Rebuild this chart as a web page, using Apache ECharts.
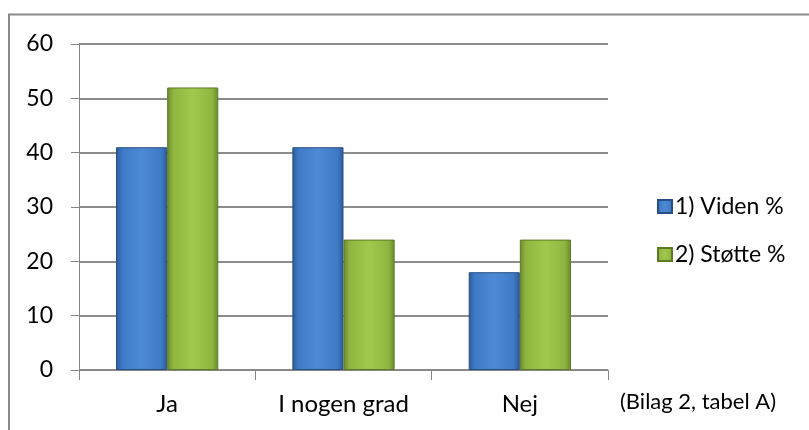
<!DOCTYPE html>
<html>
<head>
<meta charset="utf-8">
<style>
  html, body { margin: 0; padding: 0; background: #ffffff; }
  #chart { width: 809px; height: 430px; }
</style>
<script src="https://cdn.jsdelivr.net/npm/echarts@6/dist/echarts.min.js"></script>
</head>
<body>
<div id="chart"></div>
<script>
// Survey answers per category, in percent
const categories = ['Ja', 'I nogen grad', 'Nej'];
const seriesNames = ['1) Viden %', '2) Støtte %'];
const viden = [41, 41, 18];
const stotte = [52, 24, 24];
const yTicks = { min: 0, max: 60, interval: 10 };
const sourceNote = '(Bilag 2, tabel A)';

const FONT = 'Lato, "Open Sans", sans-serif';

function barFill(light, mid, dark) {
  return new echarts.graphic.LinearGradient(0, 0, 1, 0, [
    { offset: 0, color: dark },
    { offset: 0.12, color: mid },
    { offset: 0.5, color: light },
    { offset: 0.88, color: mid },
    { offset: 1, color: dark }
  ]);
}

const chart = echarts.init(document.getElementById('chart'), null, { renderer: 'canvas' });

chart.setOption({
  backgroundColor: '#ffffff',
  animation: false,
  grid: { left: 79, right: 201, top: 44, bottom: 60 },
  legend: {
    orient: 'vertical',
    left: 652,
    top: 190,
    itemWidth: 14,
    itemHeight: 13,
    itemGap: 25,
    textStyle: { fontFamily: FONT, fontSize: 23, color: '#000000', padding: [0, 0, 0, -2] },
    data: [
      { name: seriesNames[0], icon: 'rect' },
      { name: seriesNames[1], icon: 'rect' }
    ]
  },
  xAxis: {
    type: 'category',
    data: categories,
    axisLine: { show: true, lineStyle: { color: '#868686', width: 1 } },
    axisTick: { show: true, length: 10, lineStyle: { color: '#868686' } },
    axisLabel: { fontFamily: FONT, fontSize: 24, color: '#000000', margin: 22 }
  },
  yAxis: {
    type: 'value',
    min: yTicks.min,
    max: yTicks.max,
    interval: yTicks.interval,
    axisLine: { show: true, lineStyle: { color: '#868686', width: 1 } },
    axisTick: { show: true, length: 8, lineStyle: { color: '#868686' } },
    axisLabel: { fontFamily: FONT, fontSize: 23, color: '#000000', margin: 26 },
    splitLine: { show: true, lineStyle: { color: '#8c8c8c', width: 2 } }
  },
  series: [
    {
      name: seriesNames[0],
      type: 'bar',
      data: viden,
      barGap: '0%',
      barCategoryGap: '42%',
      itemStyle: {
        color: barFill('#4d8ad6', '#3f7ac6', '#2c5a98'),
        borderColor: '#284f85',
        borderWidth: 1
      }
    },
    {
      name: seriesNames[1],
      type: 'bar',
      data: stotte,
      barGap: '0%',
      barCategoryGap: '42%',
      itemStyle: {
        color: barFill('#a0c94c', '#8fb540', '#6b8a2c'),
        borderColor: '#5e7a26',
        borderWidth: 1
      }
    }
  ],
  graphic: [
    {
      type: 'rect',
      silent: true,
      shape: { x: 9, y: 14.5, width: 900, height: 500 },
      style: { fill: 'none', stroke: '#8a8a8a', lineWidth: 2 },
      z: 100
    },
    {
      type: 'text',
      left: 620,
      top: 391,
      style: { text: sourceNote, font: '22px ' + FONT, fill: '#000000' }
    }
  ]
});
</script>
</body>
</html>
